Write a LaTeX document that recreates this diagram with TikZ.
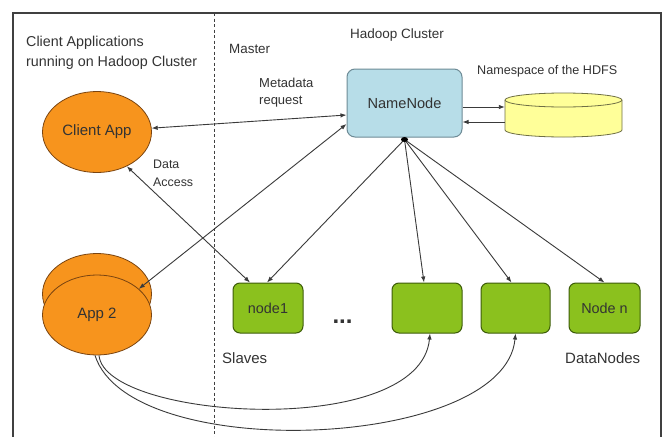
\documentclass[tikz,border=0pt]{standalone}
\usepackage{fontspec}
\setmainfont{Liberation Sans}
\usetikzlibrary{shapes.geometric,arrows.meta}
\definecolor{orangefill}{HTML}{F7941D}
\definecolor{orangeline}{HTML}{7A4410}
\definecolor{greenfill}{HTML}{8BC11E}
\definecolor{greenline}{HTML}{3D5C0A}
\definecolor{bluefill}{HTML}{B7DDE8}
\definecolor{blueline}{HTML}{6E8B96}
\definecolor{yellowfill}{HTML}{FFFF99}
\definecolor{cylline}{HTML}{6F6F45}
\definecolor{txt}{HTML}{333333}
\definecolor{linec}{HTML}{3A3A3A}
\definecolor{framec}{HTML}{404040}
\newcommand{\myfs}[2]{\fontsize{#1pt}{#2pt}\selectfont}
\begin{document}
\begin{tikzpicture}[x=1pt,y=-1pt,
  app/.style={ellipse, draw=orangeline, fill=orangefill, line width=0.8pt,
    minimum width=109pt, minimum height=81pt, inner sep=0pt, font=\myfs{15}{18}, text=txt},
  dn/.style={rectangle, rounded corners=7pt, draw=greenline, fill=greenfill, line width=1pt,
    minimum width=70pt, minimum height=50pt, inner sep=0pt, font=\myfs{14.4}{17}, text=txt},
  nnode/.style={rectangle, rounded corners=8pt, draw=blueline, fill=bluefill, line width=1pt,
    minimum width=115pt, minimum height=68pt, inner sep=0pt, font=\myfs{14.6}{17}, text=txt},
  lbl/.style={anchor=west, inner sep=0pt, text=txt, align=left},
  conn/.style={draw=linec, line width=0.9pt},
  arr/.style={-{Latex[length=6pt,width=4.5pt]}},
  arrtwo/.style={{Latex[length=6pt,width=4.5pt]}-{Latex[length=6pt,width=4.5pt]}}
]
\useasboundingbox (0,0) rectangle (665,437);
\fill[white] (0,0) rectangle (665,437);
\draw[framec, line width=1.2pt] (13,437) -- (13,13) -- (661,13) -- (661,437);
\draw[framec, line width=0.7pt, dash pattern=on 3pt off 2.5pt] (214,13) -- (214,437);

% labels
\node[lbl, font=\myfs{14.3}{20}] (lclient) at (26,53) {Client Applications\\running on Hadoop Cluster};
\node[lbl, font=\myfs{13.4}{16}] (lmaster) at (229,49) {Master};
\node[lbl, font=\myfs{13.5}{16}] (lhadoop) at (350,35.5) {Hadoop Cluster};
\node[lbl, font=\myfs{13}{17}] (lmeta) at (259,92.5) {Metadata\\request};
\node[lbl, font=\myfs{12.6}{15}] (lns) at (477,71) {Namespace of the HDFS};
\node[lbl, font=\myfs{12.4}{18}] (lda) at (153,173) {Data\\Access};
\node[lbl, font=\myfs{15}{18}] (lslaves) at (222,358) {Slaves};
\node[lbl, font=\myfs{15}{18}] (ldn) at (565,358) {DataNodes};

% nodes
\node[app] (ca) at (97,132) {Client App};
\node[app] (app2b) at (97,294) {};
\node[app, minimum height=80pt] (app2) at (97,315) {App 2};
\node[nnode] (nn) at (404.5,103) {NameNode};
\node[inner sep=0pt, minimum width=117pt, minimum height=44pt] (db) at (563.5,115) {};
\filldraw[fill=yellowfill, draw=cylline, line width=0.8pt]
  (505,100) -- (505,130) arc[start angle=180,end angle=360,x radius=58.5pt,y radius=7pt]
  -- (622,100) arc[start angle=0,end angle=180,x radius=58.5pt,y radius=7pt] -- cycle;
\draw[cylline, line width=0.8pt] (505,100) arc[start angle=180,end angle=360,x radius=58.5pt,y radius=7pt];

\node[dn] (node1) at (268,308) {node1};
\node[dn] (box2) at (427,308) {};
\node[dn, minimum width=69pt] (box3) at (515.5,308) {};
\node[dn, minimum width=71pt] (noden) at (604.5,308) {Node n};
\node[anchor=base, inner sep=0pt, font=\bfseries\myfs{24}{26}, text=txt] (dots) at (342.5,323) {...};

% connectors
\coordinate (d1) at ([yshift=8pt]db.west);
\coordinate (d2) at ([yshift=-7pt]db.west);
\draw[conn,arr] (d1 -| nn.east) -- (d1);
\draw[conn,arr] (d2) -- (d2 -| nn.east);

\draw[conn,arrtwo] (ca.4) -- ([yshift=-12pt]nn.west);
\draw[conn,arrtwo] (app2.32) -- ([yshift=-21pt]nn.west);
\draw[conn,arrtwo] (ca.-49) -- ([xshift=-18pt]node1.north);

\coordinate (nb) at ([yshift=-2pt]nn.south);
\draw[conn,arr] (nb) -- ([xshift=-1pt]node1.north);
\draw[conn,arr] (nb) -- ([xshift=-3pt]box2.north);
\draw[conn,arr] (nb) -- ([xshift=-4pt]box3.north);
\draw[conn,arr] (nb) -- (noden.north);
\fill[black] (nb) ellipse[x radius=3.5pt, y radius=2.5pt];

\draw[conn,arr] ([xshift=2pt]app2.south) .. controls (105,420) and (420,440) .. ([xshift=3pt]box2.south);
\draw[conn,arr] ([xshift=-2pt]app2.south) .. controls (130,465) and (505,450) .. (box3.south);
\end{tikzpicture}
\end{document}
